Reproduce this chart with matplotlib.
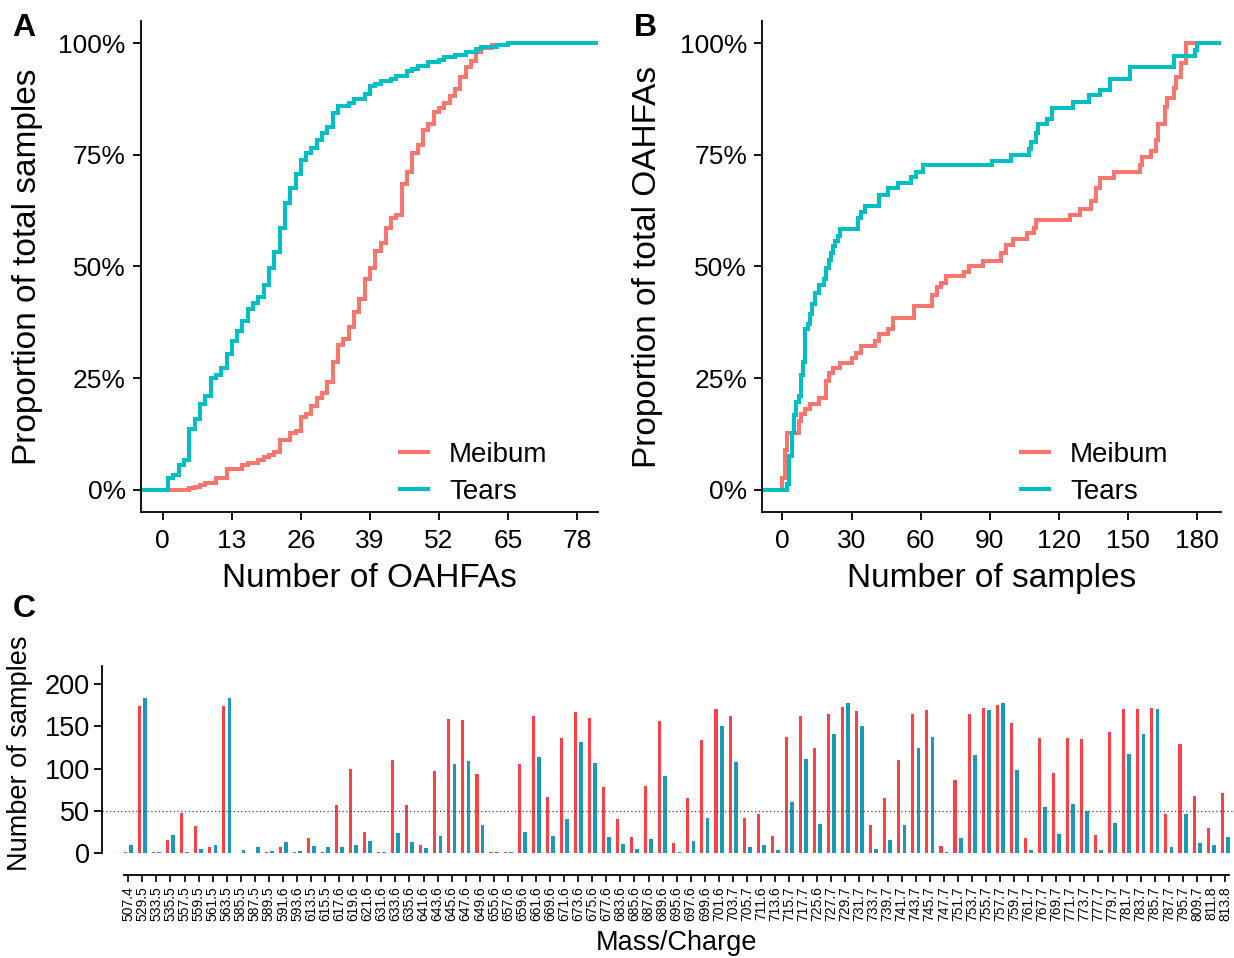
import matplotlib
matplotlib.use("Agg")
import matplotlib.pyplot as plt
from matplotlib.lines import Line2D
import numpy as np

plt.rcParams['font.family'] = ['Liberation Sans', 'DejaVu Sans']

# ---------------- Data ----------------
# Panel A: ECDF of number of OAHFAs per sample (step positions, cumulative %)
a_meibum_x = [5, 6, 7, 8, 10, 12, 15, 16, 18, 19, 20, 21, 22, 24, 25, 26, 27, 28, 29, 30,
              31, 32, 33, 34, 35, 36, 37, 38, 39, 40, 41, 42, 43, 44, 45, 46, 47, 48, 49, 50,
              51, 52, 53, 54, 55, 56, 57, 58, 59, 60, 62, 65]
a_meibum_y = [0.4, 0.7, 1, 1.5, 2.6, 4.7, 5.6, 6, 6.8, 7.3, 7.9, 8.4, 11.1, 12.7, 13.3, 16.3, 17.1, 18.8, 20.5, 21.8,
              24.1, 28.7, 32.5, 33.8, 36.4, 39.8, 42.8, 47.1, 49.7, 53.5, 55.2, 58.6, 60.8, 61.6, 68.5, 71.1, 75.3, 77.2, 80.5, 81.8,
              84.6, 85.4, 86.5, 88.2, 89.7, 92.5, 94.6, 95.9, 98, 98.9, 99.5, 100]
a_tears_x = [1, 2, 3, 4, 5, 6, 7, 8, 9, 10, 11, 12, 13, 14, 15, 16, 17, 18, 19, 20,
             21, 22, 23, 24, 25, 26, 27, 28, 29, 30, 31, 32, 33, 35, 36, 38, 39, 40, 41, 43,
             44, 46, 47, 48, 50, 52, 53, 55, 57, 59, 60, 63, 65]
a_tears_y = [2.6, 3.4, 5.6, 6.8, 13.7, 15.8, 19.3, 21, 25, 25.7, 27.4, 30.4, 33.4, 35.5, 37.7, 40.4, 41.8, 43.2, 45.8, 49.7,
             53.3, 58.6, 64.2, 67.5, 70.6, 73.9, 75.3, 76.6, 78.3, 79.9, 81.2, 84.3, 86, 86.6, 87.5, 88.6, 90.3, 90.9, 91.4, 92,
             92.6, 93.7, 94.3, 94.9, 95.7, 96.3, 96.9, 97.4, 98, 98.7, 99.1, 99.6, 100]

# Panel B: ECDF of number of samples per OAHFA
b_meibum_x = [0, 1, 2, 7, 8, 10, 12, 16, 19, 20, 22, 25, 30, 32, 34, 40, 42, 46, 48, 57,
              65, 67, 69, 71, 79, 81, 87, 95, 97, 100, 106, 109, 110, 125, 129, 134, 136, 138, 144, 155,
              156, 160, 162, 163, 166, 167, 170, 171, 173, 175]
b_meibum_y = [2.6, 9, 12.8, 15.4, 17.1, 18.2, 19.3, 20.5, 24.4, 26.1, 27.2, 28.3, 29.5, 30.7, 32.1, 33.4, 34.9, 36, 38.5, 41.1,
              43.7, 45.4, 46.4, 47.9, 48.8, 50.1, 51.2, 53.1, 54.8, 56.1, 57.4, 58.6, 60.4, 61.6, 62.9, 64.6, 67.6, 69.8, 71.1, 72.8,
              74.5, 75.8, 78.3, 81.8, 85.6, 87.8, 89.9, 92.5, 95.5, 100]
b_tears_x = [2, 3, 4, 5, 6, 7, 8, 9, 10, 11, 12, 13, 14, 16, 18, 19, 20, 21, 22, 23,
             24, 25, 33, 34, 36, 42, 46, 50, 56, 58, 61, 91, 99, 107, 108, 110, 111, 115, 117, 126,
             133, 138, 142, 151, 170, 179, 180]
b_tears_y = [1.3, 7.7, 12.8, 16.7, 19.7, 21, 25.7, 28.7, 36, 37.2, 39.4, 41.5, 44.1, 45.8, 47.1, 49.7, 51.4, 53.1, 54.5, 55.7,
             56.9, 58.4, 60.8, 62.3, 63.5, 65.9, 67.5, 68.7, 70, 71.2, 72.6, 73.6, 74.9, 76.2, 77.9, 79.8, 81.8, 83, 85.4, 86.9,
             88.4, 89.5, 92, 94.6, 97.2, 98.5, 100]

# Panel C: number of samples per m/z
mz_labels = ["507.4", "529.5", "533.5", "535.5", "557.5", "559.5", "561.5", "563.5", "585.5", "587.5",
             "589.5", "591.6", "593.6", "613.5", "615.5", "617.6", "619.6", "621.6", "631.6", "633.6",
             "635.6", "641.6", "643.6", "645.6", "647.6", "649.6", "655.6", "657.6", "659.6", "661.6",
             "669.6", "671.6", "673.6", "675.6", "677.6", "683.6", "685.6", "687.6", "689.6", "695.6",
             "697.6", "699.6", "701.6", "703.7", "705.7", "711.6", "713.6", "715.7", "717.7", "725.6",
             "727.7", "729.7", "731.7", "733.7", "739.7", "741.7", "743.7", "745.7", "747.7", "751.7",
             "753.7", "755.7", "757.7", "759.7", "761.7", "767.7", "769.7", "771.7", "773.7", "777.7",
             "779.7", "781.7", "783.7", "785.7", "787.7", "795.7", "809.7", "811.8", "813.8"]
meibum_counts = [1, 174, 1, 16, 48, 32, 8, 174, 0, 0,
                 1, 8, 1, 18, 1, 57, 100, 25, 2, 110,
                 57, 10, 97, 159, 158, 94, 2, 2, 106, 162,
                 67, 136, 167, 160, 78, 40, 19, 80, 156, 12,
                 65, 134, 170, 162, 42, 47, 20, 138, 162, 125,
                 165, 173, 168, 34, 65, 110, 165, 169, 9, 87,
                 165, 172, 175, 154, 18, 136, 95, 136, 135, 22,
                 143, 171, 170, 172, 46, 129, 68, 30, 71]
tears_counts = [10, 183, 2, 22, 2, 5, 10, 183, 4, 7,
                3, 13, 3, 9, 7, 7, 10, 14, 2, 24,
                13, 6, 21, 106, 109, 33, 2, 1, 25, 114,
                20, 41, 132, 107, 19, 11, 5, 17, 91, 1,
                14, 42, 151, 108, 7, 10, 4, 61, 111, 35,
                141, 178, 150, 5, 16, 33, 125, 138, 2, 18,
                116, 169, 178, 99, 4, 55, 23, 58, 50, 4,
                36, 117, 141, 170, 7, 46, 12, 10, 19]
threshold = 50

# ---------------- Styles ----------------
COL_M = '#F8766D'
COL_T = '#00BFC4'
BAR_M = '#FF4047'
BAR_T = '#1A9AB8'
W, H = 1234, 958
fig = plt.figure(figsize=(W / 100, H / 100), dpi=100)


def fx(px):
    return px / W


def fy(py):
    return 1 - py / H


def style_axes(ax):
    for s in ['top', 'right']:
        ax.spines[s].set_visible(False)
    for s in ['left', 'bottom']:
        ax.spines[s].set_linewidth(1.3)
    ax.tick_params(axis='both', width=1.3, length=5.5, labelsize=19, color='black')
    ax.tick_params(axis='x', pad=6.5)
    ax.tick_params(axis='y', pad=5.5)


def ecdf(ax, xs, ys, color):
    xx = [-1000] + list(xs) + [10000]
    yy = [0] + [v / 100 for v in ys] + [ys[-1] / 100]
    ax.step(xx, yy, where='post', color=color, lw=2.9, solid_joinstyle='miter')


def add_legend(ax, xfrac):
    h = [Line2D([0], [0], color=COL_M, lw=3.0), Line2D([0], [0], color=COL_T, lw=3.0)]
    ax.legend(h, ['Meibum', 'Tears'], loc='center left', bbox_to_anchor=(xfrac, 0.079),
              frameon=False, fontsize=20, handlelength=1.0, handletextpad=0.76,
              labelspacing=0.4, borderpad=0, borderaxespad=0)


pct = ['0%', '25%', '50%', '75%', '100%']

# Panel A
axA = fig.add_axes([fx(141), fy(512.3), fx(598.3 - 141), (512.3 - 20.7) / H])
ecdf(axA, a_meibum_x, a_meibum_y, COL_M)
ecdf(axA, a_tears_x, a_tears_y, COL_T)
axA.set_xlim(-4.1, 82)
axA.set_ylim(-0.05, 1.05)
axA.set_xticks([0, 13, 26, 39, 52, 65, 78])
axA.set_yticks([0, 0.25, 0.5, 0.75, 1])
axA.set_yticklabels(pct)
style_axes(axA)
axA.set_xlabel('Number of OAHFAs', fontsize=24)
axA.set_ylabel('Proportion of total samples', fontsize=24)
axA.xaxis.set_label_coords(0.5, -0.104)
axA.yaxis.set_label_coords(-0.214, 0.5)
add_legend(axA, 0.5664)

# Panel B
axB = fig.add_axes([fx(762.4), fy(512.3), fx(1220.7 - 762.4), (512.3 - 20.7) / H])
ecdf(axB, b_meibum_x, b_meibum_y, COL_M)
ecdf(axB, b_tears_x, b_tears_y, COL_T)
axB.set_xlim(-8.7, 190.2)
axB.set_ylim(-0.05, 1.05)
axB.set_xticks([0, 30, 60, 90, 120, 150, 180])
axB.set_yticks([0, 0.25, 0.5, 0.75, 1])
axB.set_yticklabels(pct)
style_axes(axB)
axB.set_xlabel('Number of samples', fontsize=24)
axB.set_ylabel('Proportion of total OAHFAs', fontsize=24)
axB.xaxis.set_label_coords(0.5, -0.104)
axB.yaxis.set_label_coords(-0.217, 0.5)
add_legend(axB, 0.5643)

# Panel C
axC = fig.add_axes([fx(101.7), fy(875), fx(1234 - 101.7), (875 - 666) / H])
idx = np.arange(len(mz_labels))
axC.bar(idx - 0.2, meibum_counts, width=0.22, color=BAR_M, linewidth=0)
axC.bar(idx + 0.2, tears_counts, width=0.27, color=BAR_T, linewidth=0)
axC.axhline(threshold, color='#444444', lw=0.9, ls=(0, (1, 2)))
axC.set_xlim(-1.89, 78.64)
axC.set_ylim(-25.6, 221.4)
axC.set_yticks([0, 50, 100, 150, 200])
axC.set_xticks(idx)
axC.set_xticklabels(mz_labels, rotation=90, fontsize=10)
for s in ['top', 'right']:
    axC.spines[s].set_visible(False)
axC.spines['left'].set_bounds(0, 221.4)
axC.spines['bottom'].set_bounds(-0.3, 78.3)
axC.spines['left'].set_linewidth(1.3)
axC.spines['bottom'].set_linewidth(1.3)
axC.tick_params(axis='y', labelsize=19.5, width=1.3, length=6, pad=2.5)
axC.tick_params(axis='x', width=1.2, length=5, pad=3)
axC.set_ylabel('Number of samples', fontsize=19.5)
axC.set_xlabel('Mass/Charge', fontsize=19.5)
axC.yaxis.set_label_coords(-0.0604, 0.584)
axC.xaxis.set_label_coords(0.508, -0.262)

# Panel letters
fig.text(fx(12), fy(13), 'A', fontsize=23, fontweight='bold', va='top', ha='left')
fig.text(fx(634), fy(13), 'B', fontsize=23, fontweight='bold', va='top', ha='left')
fig.text(fx(13), fy(594), 'C', fontsize=23, fontweight='bold', va='top', ha='left')

fig.savefig('out.png', dpi=100)
